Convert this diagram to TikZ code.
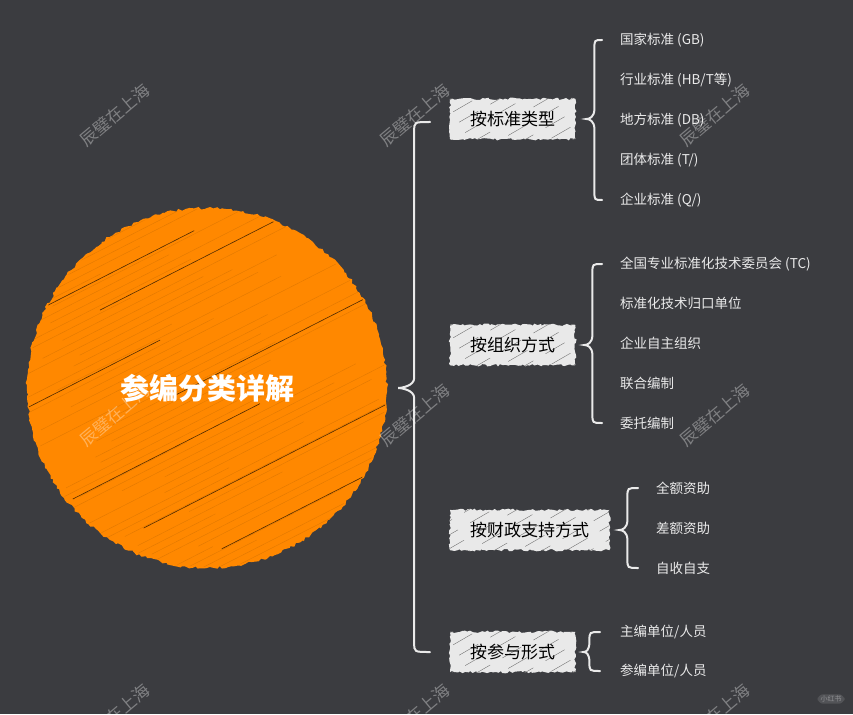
\documentclass[tikz,border=0pt]{standalone}
\usepackage{fontspec}
\setmainfont{Noto Sans CJK SC}
\usetikzlibrary{calc,backgrounds,decorations.pathmorphing}

\definecolor{boardgray}{RGB}{59,60,64}
\definecolor{hubfill}{RGB}{255,136,0}
\definecolor{catfill}{RGB}{233,233,233}
\definecolor{leafwhite}{RGB}{234,234,234}

\tikzset{
  roughedge/.style={decorate, decoration={random steps, segment length=3pt, amplitude=1.4pt}},
  roughbox/.style={decorate, decoration={random steps, segment length=2.5pt, amplitude=1.2pt}},
  hubhatch/.style={draw=hubfill!75!black, line width=0.4pt, opacity=0.45},
  hubdark/.style={draw=black!85!hubfill, line width=0.6pt, opacity=0.8},
  boxhatch/.style={draw=black!55, line width=0.4pt, dash pattern=on 22pt off 14pt},
  hub/.style={circle, minimum size=360pt, inner sep=0pt, text=white,
    font=\fontsize{29}{34}\selectfont\bfseries},
  catbox/.style={rectangle, anchor=west, minimum height=40pt, inner xsep=20pt,
    text=black, font=\fontsize{17}{20}\selectfont},
  leaf/.style={anchor=west, inner sep=0pt, text=leafwhite,
    font=\fontsize{13.5}{15}\selectfont},
  bracestroke/.style={draw=leafwhite, line width=2pt, line cap=round},
  wmark/.style={rotate=40, text=white, text opacity=0.35,
    font=\fontsize{17}{20}\selectfont}
}

% curly brace: top end, tip, bottom end, depth of the tip
\newcommand{\curly}[4]{%
  \draw[bracestroke] let \p1=(#1), \p2=(#2), \p3=(#3), \p4=($(#2)+(#4,0)$) in
    (\p1) .. controls (\x4,\y1) .. (\x4,\y1-9pt)
    -- (\x4,\y2+10pt) .. controls (\x4,\y2+2pt) and (\x2+3pt,\y2) .. (\p2)
    .. controls (\x2+3pt,\y2) and (\x4,\y2-2pt) .. (\x4,\y2-10pt)
    -- (\x4,\y3+9pt) .. controls (\x4,\y3) .. (\p3);
}

\begin{document}
\begin{tikzpicture}[x=1pt, y=-1pt]
  \useasboundingbox (0,0) rectangle (853,714);
  \pgfmathsetseed{11}

  % hub and categories
  \node[hub] (hub) at (207,388) {参编分类详解};
  \node[catbox] (type) at (450,119) {按标准类型};
  \node[catbox] (org) at (450,345) {按组织方式};
  \node[catbox] (fund) at (450,530) {按财政支持方式};
  \node[catbox] (part) at (450,652) {按参与形式};

  % sketchy fills behind the nodes
  \begin{scope}[on background layer]
    \fill[boardgray] (0,0) rectangle (853,714);
    \fill[hubfill, roughedge] (hub.center) circle (180);
    \begin{scope}
      \clip (hub.center) circle (179);
      \foreach \o in {-186,-179,...,186} {
        \pgfmathsetmacro\a{-230+rnd*160}
        \pgfmathsetmacro\b{\a+120+rnd*280}
        \draw[hubhatch] ($(hub.center)+(27:\a pt)+(117:\o pt)$)
          -- ($(hub.center)+(27:\b pt)+(117:\o pt)$);
      }
      \foreach \o/\a/\b in {-150/-60/140, -96/-120/160, -38/-170/40,
                            8/-30/190, 64/-190/-20, 118/-60/170, 146/-120/60}
        \draw[hubdark] ($(hub.center)+(27:\a pt)+(117:\o pt)$)
          -- ($(hub.center)+(27:\b pt)+(117:\o pt)$);
    \end{scope}
    \foreach \n in {type,org,fund,part} {
      \fill[catfill, roughbox] (\n.south west) rectangle (\n.north east);
      \begin{scope}
        \clip (\n.south west) rectangle (\n.north east);
        \foreach \o in {-48,-36,...,48}
          \draw[boxhatch] ($(\n.center)+(30:-120pt)+(120:\o pt)$)
            -- ($(\n.center)+(30:120pt)+(120:\o pt)$);
      \end{scope}
    }
  \end{scope}

  % leaves
  \node[leaf] (gb) at (620,40) {国家标准 (GB)};
  \node[leaf] (hb) at (620,80) {行业标准 (HB/T等)};
  \node[leaf] (db) at (620,120) {地方标准 (DB)};
  \node[leaf] (tt) at (620,160) {团体标准 (T/)};
  \node[leaf] (qq) at (620,200) {企业标准 (Q/)};

  \node[leaf] (tc) at (620,264) {全国专业标准化技术委员会 (TC)};
  \node[leaf] (gk) at (620,303) {标准化技术归口单位};
  \node[leaf] (zz) at (620,343) {企业自主组织};
  \node[leaf] (lh) at (620,383) {联合编制};
  \node[leaf] (wt) at (620,423) {委托编制};

  \node[leaf] (qe) at (656,488) {全额资助};
  \node[leaf] (ce) at (656,528) {差额资助};
  \node[leaf] (zs) at (656,568) {自收自支};

  \node[leaf] (zb) at (620,632) {主编单位/人员};
  \node[leaf] (cb) at (620,671) {参编单位/人员};

  % braces
  \coordinate (hubtip) at ($(hub.east)+(11,0)$);
  \coordinate (hubtop) at ($(type.west)+(-20,3)$);
  \coordinate (hubbot) at ($(part.west)+(-20,0)$);
  \curly{hubtop}{hubtip}{hubbot}{16}

  \coordinate (typetip) at ($(type.east)+(11,0)$);
  \coordinate (typetop) at ($(gb.west)+(-18,0)$);
  \coordinate (typebot) at ($(qq.west)+(-18,0)$);
  \curly{typetop}{typetip}{typebot}{8}

  \coordinate (orgtip) at ($(org.east)+(9,0)$);
  \coordinate (orgtop) at ($(tc.west)+(-18,0)$);
  \coordinate (orgbot) at ($(wt.west)+(-18,0)$);
  \curly{orgtop}{orgtip}{orgbot}{8}

  \coordinate (fundtip) at ($(fund.east)+(10,0)$);
  \coordinate (fundtop) at ($(qe.west)+(-18,0)$);
  \coordinate (fundbot) at ($(zs.west)+(-18,0)$);
  \curly{fundtop}{fundtip}{fundbot}{8}

  \coordinate (parttip) at ($(part.east)+(8,0)$);
  \coordinate (parttop) at ($(zb.west)+(-20,0)$);
  \coordinate (partbot) at ($(cb.west)+(-20,0)$);
  \curly{parttop}{parttip}{partbot}{6}

  % watermarks
  \foreach \wx in {115,415,715}
    \foreach \wy in {115,415,715}
      \node[wmark] (wm-\wx-\wy) at (\wx,\wy) {辰璧在上海};
  \node[fill=white, fill opacity=0.12, text=white, text opacity=0.35, rounded corners=6pt,
        inner xsep=3pt, inner ysep=1.5pt, font=\fontsize{7}{8}\selectfont] (logo) at (831,699) {小红书};
\end{tikzpicture}
\end{document}
